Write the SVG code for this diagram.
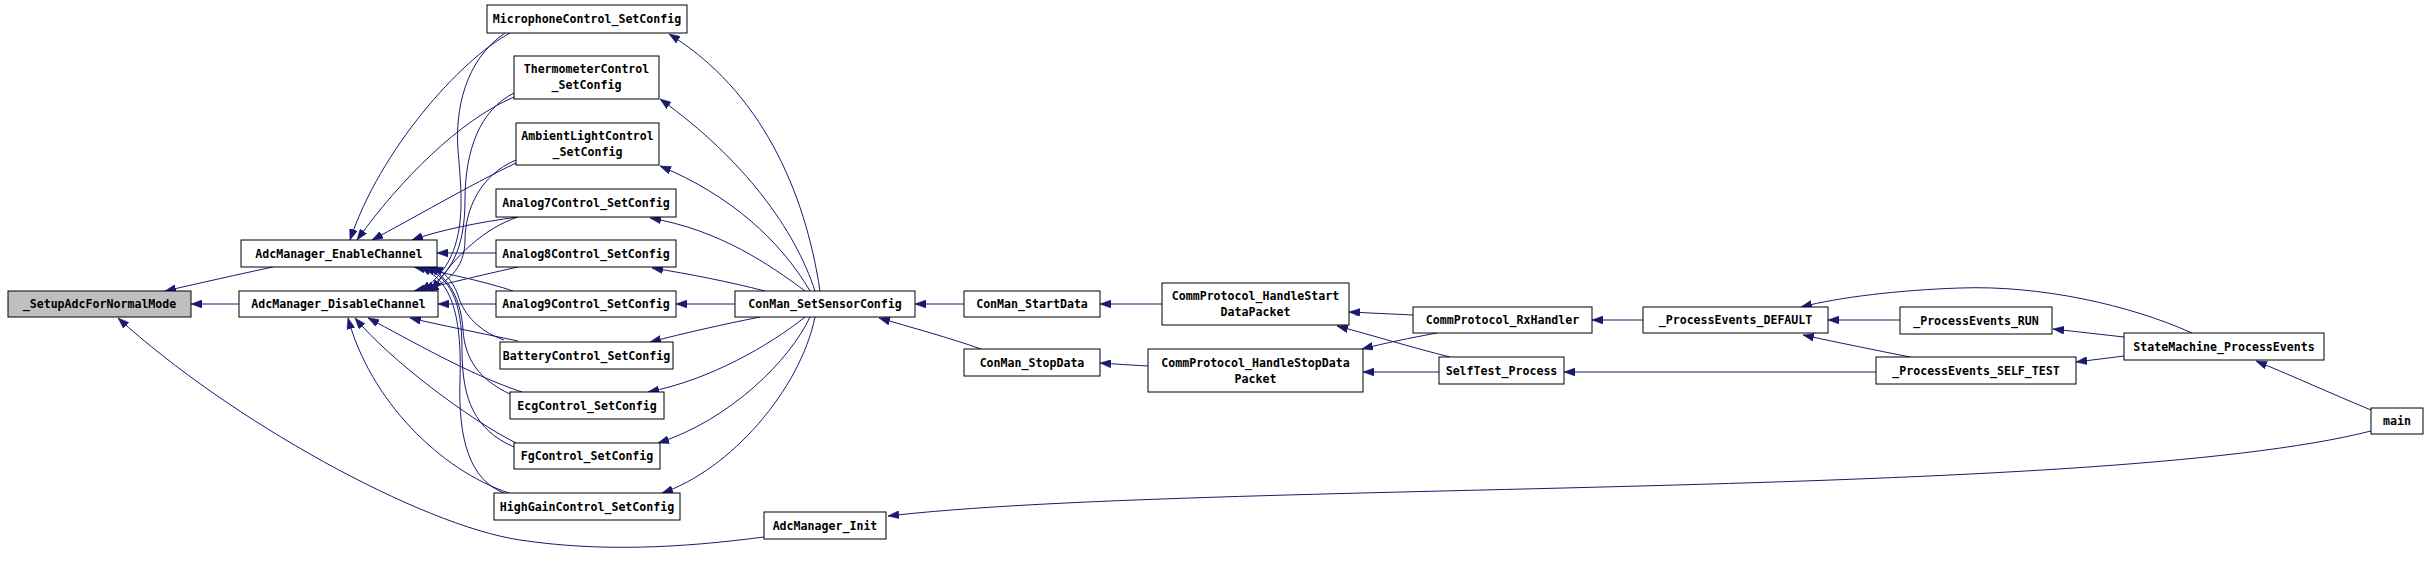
<svg xmlns="http://www.w3.org/2000/svg" width="2427" height="576" viewBox="0 0 2427 576">
<style>
.node rect{fill:#ffffff;stroke:#000000;stroke-width:1}
.node.root rect{fill:#bfbfbf}
.node text{font-family:"DejaVu Sans Mono","Liberation Mono",monospace;font-size:11.6px;font-weight:bold;fill:#000000;text-anchor:middle}
.edges path{fill:none;stroke:#191970;stroke-width:1;marker-end:url(#arr)}
</style>
<defs>
<marker id="arr" viewBox="0 0 11 8" refX="11" refY="4" markerWidth="11" markerHeight="8" markerUnits="userSpaceOnUse" orient="auto">
<path d="M0,0 L11,4 L0,8 z" fill="#191970" stroke="#191970" stroke-width="0.5"/>
</marker>
</defs>
<rect width="2427" height="576" fill="#ffffff"/>
<g class="edges" id="connectors">
<path d="M273,267 C240,274 200,283 165,291"/>
<path d="M239,304 L191,304"/>
<path d="M764,537 C680,548 600,552 520,540 C420,525 230,420 118,318"/>
<path d="M496,253 L437,253"/>
<path d="M496,304 L438,304"/>
<path d="M510,33 C460,60 380,150 350,240"/>
<path d="M505,33 C465,60 455,110 458,150 C462,200 470,260 420,291"/>
<path d="M514,97 C460,120 400,180 357,240"/>
<path d="M514,93 C480,110 465,150 465,200 C465,250 450,275 424,291"/>
<path d="M516,163 C470,185 410,220 372,240"/>
<path d="M516,160 C480,175 465,210 465,240 C465,270 445,283 428,291"/>
<path d="M518,217 C480,222 440,230 412,240"/>
<path d="M518,217 C485,228 455,255 432,291"/>
<path d="M518,267 C490,273 450,283 414,291"/>
<path d="M513,291 C490,283 450,274 414,267"/>
<path d="M518,341 C480,333 440,325 410,318"/>
<path d="M504,340 C475,330 462,310 458,295 C452,280 445,272 432,267"/>
<path d="M522,392 C470,375 410,340 368,318"/>
<path d="M510,394 C480,380 465,360 463,330 C461,300 450,278 428,267"/>
<path d="M516,443 C470,420 390,360 355,318"/>
<path d="M514,447 C475,430 462,400 462,350 C462,300 450,278 424,267"/>
<path d="M509,493 C440,470 370,400 348,318"/>
<path d="M504,493 C470,480 458,440 460,380 C462,310 450,280 420,267"/>
<path d="M820,291 C805,190 760,90 669,34"/>
<path d="M815,291 C795,230 745,160 660,99"/>
<path d="M810,291 C780,240 730,195 660,166"/>
<path d="M805,291 C770,265 720,230 650,218"/>
<path d="M765,291 C730,282 690,274 652,268"/>
<path d="M735,304 L676,304"/>
<path d="M760,317 C720,325 685,333 650,342"/>
<path d="M805,317 C770,345 710,380 648,392"/>
<path d="M810,317 C790,360 730,420 658,443"/>
<path d="M815,317 C800,390 730,470 662,493"/>
<path d="M964,304 L915,304"/>
<path d="M1162,304 L1100,304"/>
<path d="M1148,366 C1130,365 1115,364 1100,363"/>
<path d="M981,349 C950,338 910,327 879,318"/>
<path d="M1413,315 L1349,312"/>
<path d="M1450,357 C1410,347 1375,336 1337,326"/>
<path d="M1437,333 C1410,338 1385,343 1362,349"/>
<path d="M1439,372 L1363,372"/>
<path d="M1643,320 L1592,320"/>
<path d="M1876,372 L1564,372"/>
<path d="M1910,357 C1875,350 1840,343 1803,335"/>
<path d="M1900,320 L1828,320"/>
<path d="M2192,333 C2130,305 2040,285 1960,288 C1900,290 1840,297 1801,307"/>
<path d="M2124,337 L2053,329"/>
<path d="M2124,356 L2076,362"/>
<path d="M2371,410 C2330,393 2295,377 2256,361"/>
<path d="M2371,431 C2100,500 1200,480 888,516"/>
</g>
<g class="node root" id="node_SetupAdcForNormalMode"><rect x="8" y="291" width="183" height="26"/><text x="99.5" y="308">_SetupAdcForNormalMode</text></g>
<g class="node" id="node_AdcManager_EnableChannel"><rect x="241" y="240" width="196" height="27"/><text x="339" y="257.5">AdcManager_EnableChannel</text></g>
<g class="node" id="node_AdcManager_DisableChannel"><rect x="239" y="291" width="199" height="26"/><text x="338.5" y="308">AdcManager_DisableChannel</text></g>
<g class="node" id="node_AdcManager_Init"><rect x="764" y="512" width="122" height="27"/><text x="825" y="529.5">AdcManager_Init</text></g>
<g class="node" id="node_MicrophoneControl_SetConfig"><rect x="487" y="5" width="200" height="28"/><text x="587" y="23">MicrophoneControl_SetConfig</text></g>
<g class="node" id="node_ThermometerControl_SetConfig"><rect x="514" y="56" width="145" height="43"/><text x="586.5" y="73">ThermometerControl</text><text x="586.5" y="89">_SetConfig</text></g>
<g class="node" id="node_AmbientLightControl_SetConfig"><rect x="516" y="123" width="143" height="42"/><text x="587.5" y="140">AmbientLightControl</text><text x="587.5" y="156">_SetConfig</text></g>
<g class="node" id="node_Analog7Control_SetConfig"><rect x="496" y="189" width="180" height="28"/><text x="586" y="207">Analog7Control_SetConfig</text></g>
<g class="node" id="node_Analog8Control_SetConfig"><rect x="496" y="240" width="180" height="27"/><text x="586" y="257.5">Analog8Control_SetConfig</text></g>
<g class="node" id="node_Analog9Control_SetConfig"><rect x="496" y="291" width="180" height="26"/><text x="586" y="308">Analog9Control_SetConfig</text></g>
<g class="node" id="node_BatteryControl_SetConfig"><rect x="500" y="342" width="173" height="27"/><text x="586.5" y="359.5">BatteryControl_SetConfig</text></g>
<g class="node" id="node_EcgControl_SetConfig"><rect x="510" y="392" width="154" height="27"/><text x="587" y="409.5">EcgControl_SetConfig</text></g>
<g class="node" id="node_FgControl_SetConfig"><rect x="514" y="443" width="146" height="26"/><text x="587" y="460">FgControl_SetConfig</text></g>
<g class="node" id="node_HighGainControl_SetConfig"><rect x="494" y="493" width="186" height="27"/><text x="587" y="510.5">HighGainControl_SetConfig</text></g>
<g class="node" id="node_ConMan_SetSensorConfig"><rect x="735" y="291" width="180" height="26"/><text x="825" y="308">ConMan_SetSensorConfig</text></g>
<g class="node" id="node_ConMan_StartData"><rect x="964" y="291" width="136" height="26"/><text x="1032" y="308">ConMan_StartData</text></g>
<g class="node" id="node_ConMan_StopData"><rect x="964" y="349" width="136" height="27"/><text x="1032" y="366.5">ConMan_StopData</text></g>
<g class="node" id="node_CommProtocol_HandleStartDataPacket"><rect x="1162" y="283" width="187" height="42"/><text x="1255.5" y="300">CommProtocol_HandleStart</text><text x="1255.5" y="316">DataPacket</text></g>
<g class="node" id="node_CommProtocol_HandleStopDataPacket"><rect x="1148" y="349" width="215" height="43"/><text x="1255.5" y="367">CommProtocol_HandleStopData</text><text x="1255.5" y="383">Packet</text></g>
<g class="node" id="node_CommProtocol_RxHandler"><rect x="1413" y="307" width="179" height="26"/><text x="1502.5" y="324">CommProtocol_RxHandler</text></g>
<g class="node" id="node_SelfTest_Process"><rect x="1439" y="357" width="125" height="27"/><text x="1501.5" y="374.5">SelfTest_Process</text></g>
<g class="node" id="node_ProcessEvents_DEFAULT"><rect x="1643" y="307" width="185" height="26"/><text x="1735.5" y="324">_ProcessEvents_DEFAULT</text></g>
<g class="node" id="node_ProcessEvents_RUN"><rect x="1900" y="307" width="152" height="27"/><text x="1976" y="324.5">_ProcessEvents_RUN</text></g>
<g class="node" id="node_ProcessEvents_SELF_TEST"><rect x="1876" y="357" width="200" height="27"/><text x="1976" y="374.5">_ProcessEvents_SELF_TEST</text></g>
<g class="node" id="node_StateMachine_ProcessEvents"><rect x="2124" y="333" width="200" height="27"/><text x="2224" y="350.5">StateMachine_ProcessEvents</text></g>
<g class="node" id="node_main"><rect x="2371" y="408" width="52" height="26"/><text x="2397" y="425">main</text></g>
</svg>
